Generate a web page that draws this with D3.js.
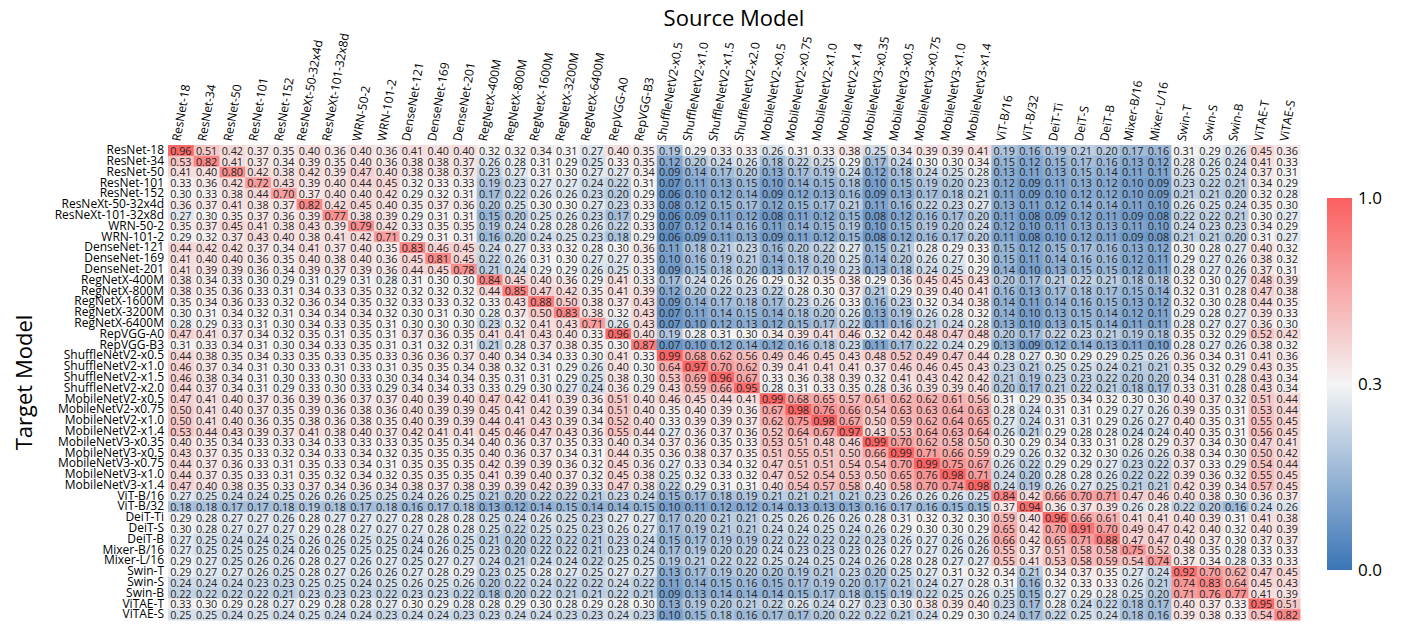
<!DOCTYPE html>
<html><head><meta charset="utf-8">
<script src="https://cdn.jsdelivr.net/npm/d3@7"></script>
<style>body{margin:0;background:#fff;} text{font-family:"Open Sans",sans-serif;}</style>
</head><body><svg id="chart" width="1408" height="630"></svg>
<script>
const sourceModels = ["ResNet-18","ResNet-34","ResNet-50","ResNet-101","ResNet-152","ResNeXt-50-32x4d","ResNeXt-101-32x8d","WRN-50-2","WRN-101-2","DenseNet-121","DenseNet-169","DenseNet-201","RegNetX-400M","RegNetX-800M","RegNetX-1600M","RegNetX-3200M","RegNetX-6400M","RepVGG-A0","RepVGG-B3","ShuffleNetV2-x0.5","ShuffleNetV2-x1.0","ShuffleNetV2-x1.5","ShuffleNetV2-x2.0","MobileNetV2-x0.5","MobileNetV2-x0.75","MobileNetV2-x1.0","MobileNetV2-x1.4","MobileNetV3-x0.35","MobileNetV3-x0.5","MobileNetV3-x0.75","MobileNetV3-x1.0","MobileNetV3-x1.4","ViT-B/16","ViT-B/32","DeiT-Ti","DeiT-S","DeiT-B","Mixer-B/16","Mixer-L/16","Swin-T","Swin-S","Swin-B","ViTAE-T","ViTAE-S"];
const targetModels = sourceModels.slice();
const colorbarTicks = [0.0, 0.3, 1.0];
const transferRates = [
[0.96,0.51,0.42,0.37,0.35,0.40,0.36,0.40,0.36,0.41,0.40,0.40,0.32,0.32,0.34,0.31,0.27,0.40,0.35,0.19,0.29,0.33,0.33,0.26,0.31,0.33,0.38,0.25,0.34,0.39,0.39,0.41,0.19,0.16,0.19,0.21,0.20,0.17,0.16,0.31,0.29,0.26,0.45,0.36],
[0.53,0.82,0.41,0.37,0.34,0.39,0.35,0.40,0.36,0.38,0.38,0.37,0.26,0.28,0.31,0.29,0.25,0.33,0.35,0.12,0.20,0.24,0.26,0.18,0.22,0.25,0.29,0.17,0.24,0.30,0.30,0.34,0.15,0.12,0.15,0.17,0.16,0.13,0.12,0.28,0.26,0.24,0.41,0.33],
[0.41,0.40,0.80,0.42,0.38,0.42,0.39,0.47,0.40,0.38,0.38,0.37,0.23,0.27,0.31,0.30,0.27,0.27,0.34,0.09,0.14,0.17,0.20,0.13,0.17,0.19,0.24,0.12,0.18,0.24,0.25,0.28,0.13,0.11,0.13,0.15,0.14,0.11,0.11,0.26,0.25,0.24,0.37,0.31],
[0.33,0.36,0.42,0.72,0.43,0.39,0.40,0.44,0.45,0.32,0.33,0.33,0.19,0.23,0.27,0.27,0.24,0.22,0.31,0.07,0.11,0.13,0.15,0.10,0.14,0.15,0.18,0.10,0.15,0.19,0.20,0.23,0.12,0.09,0.11,0.13,0.12,0.10,0.09,0.23,0.22,0.21,0.34,0.29],
[0.30,0.33,0.38,0.44,0.70,0.37,0.40,0.40,0.42,0.29,0.32,0.31,0.17,0.22,0.26,0.26,0.23,0.20,0.29,0.06,0.10,0.12,0.14,0.09,0.12,0.13,0.16,0.09,0.13,0.17,0.18,0.21,0.11,0.09,0.10,0.12,0.12,0.10,0.09,0.21,0.21,0.20,0.32,0.28],
[0.36,0.37,0.41,0.38,0.37,0.82,0.42,0.45,0.40,0.35,0.37,0.36,0.20,0.25,0.30,0.30,0.27,0.23,0.33,0.08,0.12,0.15,0.17,0.12,0.15,0.17,0.21,0.11,0.16,0.22,0.23,0.27,0.13,0.11,0.12,0.14,0.14,0.11,0.10,0.26,0.25,0.24,0.35,0.30],
[0.27,0.30,0.35,0.37,0.36,0.39,0.77,0.38,0.39,0.29,0.31,0.31,0.15,0.20,0.25,0.26,0.23,0.17,0.29,0.06,0.09,0.11,0.12,0.08,0.11,0.12,0.15,0.08,0.12,0.16,0.17,0.20,0.11,0.08,0.09,0.12,0.11,0.09,0.08,0.22,0.22,0.21,0.30,0.27],
[0.35,0.37,0.45,0.41,0.38,0.43,0.39,0.79,0.42,0.33,0.35,0.35,0.19,0.24,0.28,0.28,0.26,0.22,0.33,0.07,0.12,0.14,0.16,0.11,0.14,0.15,0.19,0.10,0.15,0.19,0.20,0.24,0.12,0.10,0.11,0.13,0.13,0.11,0.10,0.24,0.23,0.23,0.34,0.29],
[0.29,0.32,0.37,0.43,0.40,0.38,0.41,0.42,0.71,0.29,0.31,0.31,0.16,0.20,0.24,0.25,0.23,0.18,0.29,0.06,0.09,0.11,0.13,0.09,0.11,0.12,0.15,0.08,0.12,0.16,0.17,0.20,0.11,0.08,0.10,0.12,0.11,0.09,0.08,0.21,0.21,0.20,0.31,0.27],
[0.44,0.42,0.42,0.37,0.34,0.41,0.37,0.40,0.35,0.83,0.46,0.45,0.24,0.27,0.33,0.32,0.28,0.30,0.36,0.11,0.18,0.21,0.23,0.16,0.20,0.22,0.27,0.15,0.21,0.28,0.29,0.33,0.15,0.12,0.15,0.17,0.16,0.13,0.12,0.30,0.28,0.27,0.40,0.32],
[0.41,0.40,0.40,0.36,0.35,0.40,0.38,0.40,0.36,0.45,0.81,0.45,0.22,0.26,0.31,0.30,0.27,0.27,0.35,0.10,0.16,0.19,0.21,0.14,0.18,0.20,0.25,0.14,0.20,0.26,0.27,0.30,0.15,0.11,0.14,0.16,0.16,0.12,0.11,0.29,0.27,0.26,0.38,0.32],
[0.41,0.39,0.39,0.36,0.34,0.39,0.37,0.39,0.36,0.44,0.45,0.78,0.21,0.24,0.29,0.29,0.26,0.25,0.33,0.09,0.15,0.18,0.20,0.13,0.17,0.19,0.23,0.13,0.18,0.24,0.25,0.29,0.14,0.10,0.13,0.15,0.15,0.12,0.11,0.28,0.27,0.26,0.37,0.31],
[0.38,0.34,0.33,0.30,0.29,0.31,0.29,0.31,0.28,0.31,0.30,0.30,0.84,0.45,0.40,0.36,0.29,0.41,0.33,0.17,0.24,0.26,0.26,0.29,0.32,0.35,0.38,0.29,0.36,0.45,0.45,0.43,0.20,0.17,0.21,0.22,0.21,0.18,0.18,0.32,0.30,0.27,0.48,0.39],
[0.38,0.35,0.36,0.33,0.31,0.34,0.33,0.35,0.32,0.32,0.32,0.32,0.44,0.85,0.47,0.42,0.35,0.41,0.39,0.12,0.20,0.22,0.23,0.22,0.28,0.30,0.37,0.21,0.29,0.39,0.40,0.41,0.16,0.13,0.17,0.18,0.17,0.15,0.14,0.32,0.31,0.28,0.47,0.38],
[0.35,0.34,0.36,0.33,0.32,0.36,0.34,0.35,0.32,0.33,0.33,0.32,0.33,0.43,0.88,0.50,0.38,0.37,0.43,0.09,0.14,0.17,0.18,0.17,0.23,0.26,0.33,0.16,0.23,0.32,0.34,0.38,0.14,0.11,0.14,0.16,0.15,0.13,0.12,0.32,0.30,0.28,0.44,0.35],
[0.30,0.31,0.34,0.32,0.31,0.34,0.34,0.34,0.32,0.30,0.31,0.30,0.28,0.37,0.50,0.83,0.38,0.32,0.43,0.07,0.11,0.14,0.15,0.14,0.18,0.20,0.26,0.13,0.19,0.26,0.28,0.32,0.14,0.10,0.13,0.15,0.14,0.12,0.11,0.29,0.28,0.27,0.39,0.33],
[0.28,0.29,0.33,0.31,0.30,0.34,0.33,0.35,0.31,0.30,0.30,0.30,0.23,0.32,0.41,0.43,0.71,0.26,0.43,0.07,0.10,0.12,0.13,0.12,0.15,0.17,0.22,0.11,0.16,0.21,0.24,0.28,0.13,0.10,0.13,0.15,0.14,0.11,0.11,0.28,0.27,0.27,0.36,0.30],
[0.47,0.41,0.37,0.34,0.32,0.35,0.31,0.35,0.31,0.37,0.36,0.35,0.41,0.41,0.43,0.40,0.33,0.96,0.40,0.19,0.28,0.31,0.30,0.34,0.39,0.41,0.46,0.32,0.42,0.48,0.47,0.48,0.20,0.17,0.22,0.23,0.21,0.19,0.18,0.35,0.32,0.29,0.52,0.42],
[0.31,0.33,0.34,0.31,0.30,0.34,0.33,0.35,0.31,0.31,0.32,0.31,0.21,0.28,0.37,0.38,0.35,0.30,0.87,0.07,0.10,0.12,0.14,0.12,0.16,0.18,0.23,0.11,0.17,0.22,0.24,0.29,0.13,0.09,0.12,0.14,0.13,0.11,0.10,0.28,0.27,0.26,0.38,0.32],
[0.44,0.38,0.35,0.34,0.33,0.35,0.33,0.35,0.33,0.36,0.36,0.37,0.40,0.34,0.34,0.33,0.30,0.41,0.33,0.99,0.68,0.62,0.56,0.49,0.46,0.45,0.43,0.48,0.52,0.49,0.47,0.44,0.28,0.27,0.30,0.29,0.29,0.25,0.26,0.36,0.34,0.31,0.41,0.36],
[0.46,0.37,0.34,0.31,0.30,0.33,0.31,0.33,0.31,0.35,0.35,0.34,0.38,0.32,0.31,0.29,0.26,0.40,0.30,0.64,0.97,0.70,0.62,0.39,0.41,0.41,0.41,0.37,0.46,0.46,0.45,0.43,0.23,0.21,0.25,0.25,0.24,0.21,0.21,0.35,0.32,0.29,0.43,0.35],
[0.46,0.38,0.34,0.31,0.30,0.33,0.30,0.33,0.30,0.34,0.34,0.34,0.35,0.31,0.31,0.29,0.25,0.38,0.30,0.53,0.69,0.96,0.67,0.33,0.36,0.38,0.39,0.32,0.41,0.43,0.42,0.42,0.21,0.19,0.23,0.23,0.22,0.20,0.20,0.34,0.31,0.28,0.43,0.34],
[0.44,0.37,0.34,0.31,0.29,0.33,0.30,0.33,0.29,0.34,0.34,0.33,0.33,0.29,0.30,0.27,0.24,0.36,0.29,0.43,0.59,0.66,0.95,0.28,0.31,0.33,0.35,0.28,0.36,0.39,0.39,0.40,0.20,0.17,0.21,0.22,0.21,0.18,0.17,0.33,0.31,0.28,0.43,0.34],
[0.47,0.41,0.40,0.37,0.36,0.39,0.36,0.37,0.37,0.40,0.39,0.40,0.47,0.42,0.41,0.39,0.36,0.51,0.40,0.46,0.45,0.44,0.41,0.99,0.68,0.65,0.57,0.61,0.62,0.62,0.61,0.56,0.31,0.29,0.35,0.34,0.32,0.30,0.30,0.40,0.37,0.32,0.51,0.44],
[0.50,0.41,0.40,0.37,0.35,0.39,0.36,0.38,0.36,0.40,0.39,0.39,0.45,0.41,0.42,0.39,0.34,0.51,0.40,0.35,0.40,0.39,0.36,0.67,0.98,0.76,0.66,0.54,0.63,0.63,0.64,0.63,0.28,0.24,0.31,0.31,0.29,0.27,0.26,0.39,0.35,0.31,0.53,0.44],
[0.50,0.41,0.40,0.36,0.35,0.38,0.36,0.38,0.35,0.40,0.39,0.39,0.44,0.41,0.43,0.39,0.34,0.52,0.40,0.33,0.39,0.39,0.37,0.62,0.75,0.98,0.67,0.50,0.59,0.62,0.64,0.65,0.27,0.24,0.31,0.31,0.29,0.26,0.27,0.40,0.35,0.31,0.55,0.45],
[0.53,0.44,0.43,0.39,0.37,0.41,0.38,0.40,0.37,0.42,0.41,0.41,0.45,0.46,0.47,0.43,0.36,0.55,0.44,0.27,0.36,0.37,0.36,0.52,0.64,0.67,0.97,0.43,0.53,0.64,0.63,0.64,0.26,0.21,0.29,0.28,0.28,0.24,0.24,0.40,0.35,0.31,0.56,0.45],
[0.40,0.35,0.34,0.33,0.33,0.34,0.33,0.33,0.33,0.35,0.35,0.34,0.40,0.36,0.37,0.35,0.33,0.40,0.34,0.37,0.36,0.35,0.33,0.53,0.51,0.48,0.46,0.99,0.70,0.62,0.58,0.50,0.30,0.29,0.34,0.33,0.31,0.28,0.29,0.37,0.34,0.30,0.47,0.41],
[0.43,0.37,0.35,0.33,0.32,0.34,0.33,0.34,0.32,0.35,0.35,0.35,0.40,0.36,0.37,0.34,0.31,0.44,0.35,0.36,0.38,0.37,0.35,0.51,0.55,0.51,0.50,0.66,0.99,0.71,0.66,0.59,0.29,0.26,0.32,0.32,0.30,0.26,0.26,0.38,0.34,0.30,0.50,0.42],
[0.44,0.37,0.36,0.33,0.31,0.35,0.33,0.34,0.31,0.35,0.35,0.35,0.42,0.39,0.39,0.36,0.32,0.45,0.36,0.27,0.33,0.34,0.32,0.47,0.51,0.51,0.54,0.54,0.70,0.99,0.75,0.67,0.26,0.22,0.29,0.29,0.27,0.23,0.22,0.37,0.33,0.29,0.54,0.44],
[0.44,0.37,0.35,0.33,0.31,0.35,0.32,0.34,0.32,0.35,0.35,0.35,0.41,0.39,0.40,0.37,0.32,0.45,0.38,0.25,0.32,0.33,0.32,0.47,0.52,0.54,0.53,0.50,0.65,0.76,0.98,0.71,0.24,0.20,0.28,0.28,0.26,0.22,0.22,0.39,0.36,0.32,0.55,0.45],
[0.47,0.40,0.38,0.35,0.33,0.37,0.34,0.36,0.34,0.38,0.37,0.38,0.39,0.39,0.42,0.39,0.33,0.47,0.38,0.22,0.29,0.31,0.31,0.40,0.54,0.57,0.58,0.40,0.58,0.70,0.74,0.98,0.24,0.19,0.26,0.27,0.25,0.21,0.21,0.42,0.39,0.34,0.57,0.45],
[0.27,0.25,0.24,0.24,0.25,0.26,0.26,0.25,0.25,0.24,0.26,0.25,0.21,0.20,0.22,0.22,0.21,0.23,0.24,0.15,0.17,0.18,0.19,0.21,0.21,0.21,0.21,0.23,0.26,0.26,0.26,0.25,0.84,0.42,0.66,0.70,0.71,0.47,0.46,0.40,0.38,0.30,0.36,0.37],
[0.18,0.18,0.17,0.17,0.18,0.19,0.18,0.17,0.18,0.16,0.17,0.18,0.13,0.12,0.14,0.15,0.14,0.14,0.15,0.10,0.11,0.12,0.12,0.14,0.13,0.13,0.13,0.16,0.17,0.16,0.15,0.15,0.37,0.94,0.36,0.37,0.39,0.26,0.28,0.22,0.20,0.16,0.24,0.26],
[0.29,0.28,0.27,0.27,0.26,0.28,0.27,0.27,0.27,0.28,0.28,0.28,0.25,0.24,0.26,0.25,0.23,0.27,0.27,0.17,0.20,0.21,0.21,0.25,0.26,0.26,0.26,0.28,0.31,0.32,0.32,0.30,0.59,0.40,0.96,0.66,0.61,0.41,0.41,0.40,0.39,0.31,0.41,0.38],
[0.30,0.28,0.27,0.27,0.27,0.29,0.28,0.27,0.27,0.27,0.28,0.28,0.25,0.22,0.25,0.25,0.23,0.26,0.27,0.17,0.19,0.21,0.21,0.24,0.24,0.25,0.24,0.26,0.29,0.30,0.30,0.29,0.65,0.42,0.70,0.91,0.70,0.49,0.47,0.42,0.40,0.32,0.40,0.39],
[0.27,0.25,0.24,0.24,0.25,0.26,0.26,0.25,0.25,0.24,0.26,0.25,0.21,0.20,0.22,0.22,0.21,0.23,0.24,0.15,0.17,0.19,0.19,0.22,0.22,0.22,0.22,0.23,0.26,0.27,0.26,0.26,0.66,0.42,0.65,0.71,0.88,0.47,0.47,0.40,0.37,0.30,0.37,0.37],
[0.27,0.25,0.25,0.25,0.24,0.26,0.25,0.25,0.25,0.24,0.26,0.25,0.23,0.20,0.22,0.22,0.21,0.23,0.24,0.17,0.19,0.20,0.20,0.24,0.23,0.23,0.23,0.26,0.27,0.27,0.26,0.26,0.55,0.37,0.51,0.58,0.58,0.75,0.52,0.38,0.35,0.28,0.33,0.33],
[0.29,0.27,0.25,0.26,0.26,0.28,0.27,0.26,0.27,0.25,0.27,0.27,0.24,0.21,0.24,0.24,0.22,0.25,0.25,0.19,0.21,0.22,0.22,0.25,0.24,0.25,0.24,0.26,0.28,0.28,0.27,0.27,0.55,0.41,0.53,0.58,0.59,0.54,0.74,0.37,0.34,0.28,0.33,0.33],
[0.29,0.27,0.27,0.26,0.25,0.28,0.27,0.26,0.26,0.27,0.28,0.29,0.23,0.25,0.28,0.27,0.25,0.27,0.27,0.13,0.17,0.19,0.20,0.20,0.19,0.21,0.23,0.20,0.25,0.27,0.31,0.32,0.34,0.21,0.34,0.37,0.35,0.27,0.24,0.92,0.70,0.62,0.47,0.45],
[0.24,0.24,0.24,0.23,0.23,0.25,0.25,0.24,0.25,0.26,0.25,0.26,0.20,0.22,0.24,0.22,0.22,0.24,0.22,0.11,0.14,0.15,0.16,0.15,0.17,0.19,0.20,0.17,0.21,0.24,0.27,0.28,0.31,0.16,0.32,0.33,0.33,0.26,0.21,0.74,0.83,0.64,0.45,0.43],
[0.22,0.22,0.22,0.22,0.21,0.23,0.23,0.23,0.22,0.23,0.23,0.22,0.18,0.20,0.22,0.21,0.21,0.22,0.21,0.09,0.13,0.14,0.14,0.14,0.15,0.17,0.18,0.15,0.19,0.22,0.25,0.26,0.25,0.15,0.27,0.29,0.28,0.25,0.20,0.71,0.76,0.77,0.41,0.39],
[0.33,0.30,0.29,0.28,0.27,0.29,0.28,0.28,0.27,0.30,0.29,0.28,0.28,0.29,0.30,0.28,0.29,0.28,0.30,0.13,0.19,0.20,0.21,0.22,0.26,0.24,0.27,0.23,0.30,0.38,0.39,0.40,0.23,0.17,0.28,0.24,0.22,0.18,0.17,0.40,0.37,0.33,0.95,0.51],
[0.25,0.25,0.24,0.25,0.24,0.25,0.24,0.24,0.23,0.24,0.24,0.23,0.23,0.24,0.24,0.23,0.23,0.24,0.23,0.10,0.15,0.18,0.16,0.17,0.17,0.20,0.22,0.22,0.21,0.24,0.29,0.30,0.24,0.17,0.22,0.25,0.24,0.18,0.16,0.39,0.38,0.33,0.54,0.82]
];

const svg = d3.select("#chart");
const mLeft = 168, mRight = 1300, mTop = 145, mBottom = 620;

const x = d3.scaleBand().domain(sourceModels).range([mLeft, mRight]);
const y = d3.scaleBand().domain(targetModels).range([mTop, mBottom]);
const color = d3.scaleLinear().domain([0, 0.3, 1])
  .range(["#3a75b6", "#f4f4f4", "#fb5f5f"]).interpolate(d3.interpolateRgb).clamp(true);

const cells = [];
transferRates.forEach((row, i) => row.forEach((v, j) => cells.push({t: targetModels[i], s: sourceModels[j], v})));

const g = svg.append("g");
g.selectAll("rect.cell").data(cells).join("rect").attr("class","cell")
  .attr("x", d => x(d.s)).attr("y", d => y(d.t))
  .attr("width", x.bandwidth() + 0.5).attr("height", y.bandwidth() + 0.5)
  .attr("fill", d => color(d.v));
g.selectAll("text.val").data(cells).join("text").attr("class","val")
  .attr("x", d => x(d.s) + x.bandwidth()/2).attr("y", d => y(d.t) + y.bandwidth()/2)
  .attr("text-anchor","middle").attr("dominant-baseline","central")
  .attr("font-size", 10.8).attr("fill","#262626")
  .text(d => d.v.toFixed(2));

// left axis (target)
const ax = svg.append("g").attr("transform", `translate(${mLeft},0)`)
  .call(d3.axisLeft(y).tickSize(0).tickPadding(4));
ax.select(".domain").remove();
ax.selectAll("text").attr("font-size", 12).attr("fill","#000").style("font-family","'Open Sans',sans-serif");

// top axis (source)
const tx = svg.append("g").attr("transform", `translate(0,${mTop})`)
  .call(d3.axisTop(x).tickSize(0).tickPadding(0));
tx.select(".domain").remove();
tx.selectAll("text").attr("font-size", 12).attr("fill","#000").style("font-family","'Open Sans',sans-serif")
  .attr("text-anchor","start").attr("dominant-baseline","central").attr("y", 0).attr("dy", 0)
  .each(function() {
    const L = this.getComputedTextLength();
    const dx = -0.087 * L;
    d3.select(this).attr("transform", `translate(${dx},-4) rotate(-80)`);
  });

// titles
svg.append("text").attr("x", (mLeft+mRight)/2).attr("y", 26).attr("text-anchor","middle")
  .attr("font-size", 22).attr("fill","#000").text("Source Model");
svg.append("text").attr("transform", `translate(32,${(mTop+mBottom)/2}) rotate(-90)`).attr("text-anchor","middle")
  .attr("font-size", 22).attr("fill","#000").text("Target Model");

// colorbar
const cbX = 1327, cbW = 25, cbTop = 198, cbBot = 570;
const cbScale = d3.scaleLinear().domain([0, 0.3, 1]).range([cbBot, (cbTop+cbBot)/2, cbTop]);
const defs = svg.append("defs");
const grad = defs.append("linearGradient").attr("id","cbgrad").attr("x1",0).attr("y1",1).attr("x2",0).attr("y2",0);
d3.range(0, 1.0001, 0.05).forEach(t => {
  const v = t <= 0.5 ? (t/0.5)*0.3 : 0.3 + ((t-0.5)/0.5)*0.7;
  grad.append("stop").attr("offset", t).attr("stop-color", color(v));
});
svg.append("rect").attr("x", cbX).attr("y", cbTop).attr("width", cbW).attr("height", cbBot-cbTop).attr("fill","url(#cbgrad)");
const cax = svg.append("g").attr("transform", `translate(${cbX+cbW},0)`)
  .call(d3.axisRight(cbScale).tickValues(colorbarTicks).tickFormat(d3.format(".1f")).tickSize(0).tickPadding(6));
cax.select(".domain").remove();
cax.selectAll("text").attr("font-size", 17).attr("fill","#000").style("font-family","'Open Sans',sans-serif");
</script></body></html>
